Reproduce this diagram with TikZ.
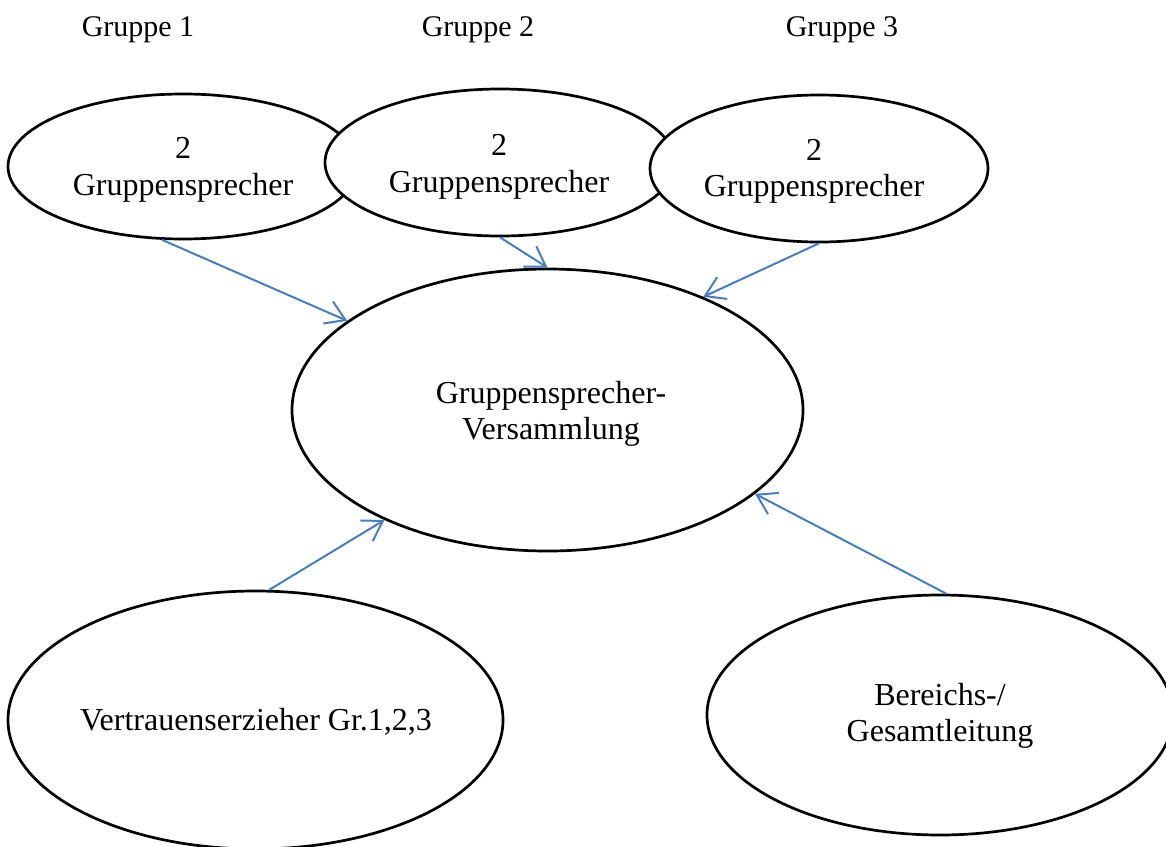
\documentclass[tikz,border=0pt]{standalone}
\usepackage{fontspec}
\setmainfont{Liberation Serif}
\usetikzlibrary{shapes.geometric,arrows.meta}
\definecolor{linkblue}{RGB}{74,126,187}
\begin{document}
\begin{tikzpicture}[x=0.5pt,y=-0.5pt,
  oval/.style={ellipse,draw=black,line width=1.35pt,fill=white,inner sep=0pt},
  txt/.style={align=center,inner sep=0pt,font=\fontsize{16}{18.2}\selectfont},
  link/.style={draw=linkblue,line width=1pt,-{Straight Barb[length=9.5pt,width=12pt]}},
  grp/.style={font=\fontsize{15}{18}\selectfont,anchor=base,inner sep=0pt}]
\useasboundingbox (0,0) rectangle (1166,846);
\node[grp] (g1) at (138,36) {Gruppe 1};
\node[grp] (g2) at (478,36) {Gruppe 2};
\node[grp] (g3) at (842,36) {Gruppe 3};
\node[oval,minimum width=175pt,minimum height=72.5pt] (e1) at (183,166.5) {};
\node[txt] (e1t) at (183,170) {2\\Gruppensprecher};
\node[oval,minimum width=175pt,minimum height=73.5pt] (e2) at (500,162.5) {};
\node[txt] (e2t) at (499,167) {2\\Gruppensprecher};
\node[oval,minimum width=169pt,minimum height=73.5pt] (e3) at (819,168.5) {};
\node[txt] (e3t) at (814,171.5) {2\\Gruppensprecher};
\node[oval,minimum width=255.5pt,minimum height=141pt] (big) at (547.5,410) {};
\node[txt] (bigt) at (551,414) {Gruppensprecher-\\Versammlung};
\node[oval,minimum width=247.5pt,minimum height=129pt] (bl) at (255.5,720) {};
\node[txt] (blt) at (256,722) {Vertrauenserzieher Gr.1,2,3};
\node[oval,minimum width=233pt,minimum height=120pt] (br) at (940,715) {};
\node[txt] (brt) at (940,716) {Bereichs-/\\Gesamtleitung};
\draw[link] (e1.254) -- (big.156);
\draw[link] (e2.south) -- (big.north);
\draw[link] (e3.south) -- (big.36);
\draw[link] (bl.84) -- (big.214);
\draw[link] (br.87) -- (big.338);
\end{tikzpicture}
\end{document}
